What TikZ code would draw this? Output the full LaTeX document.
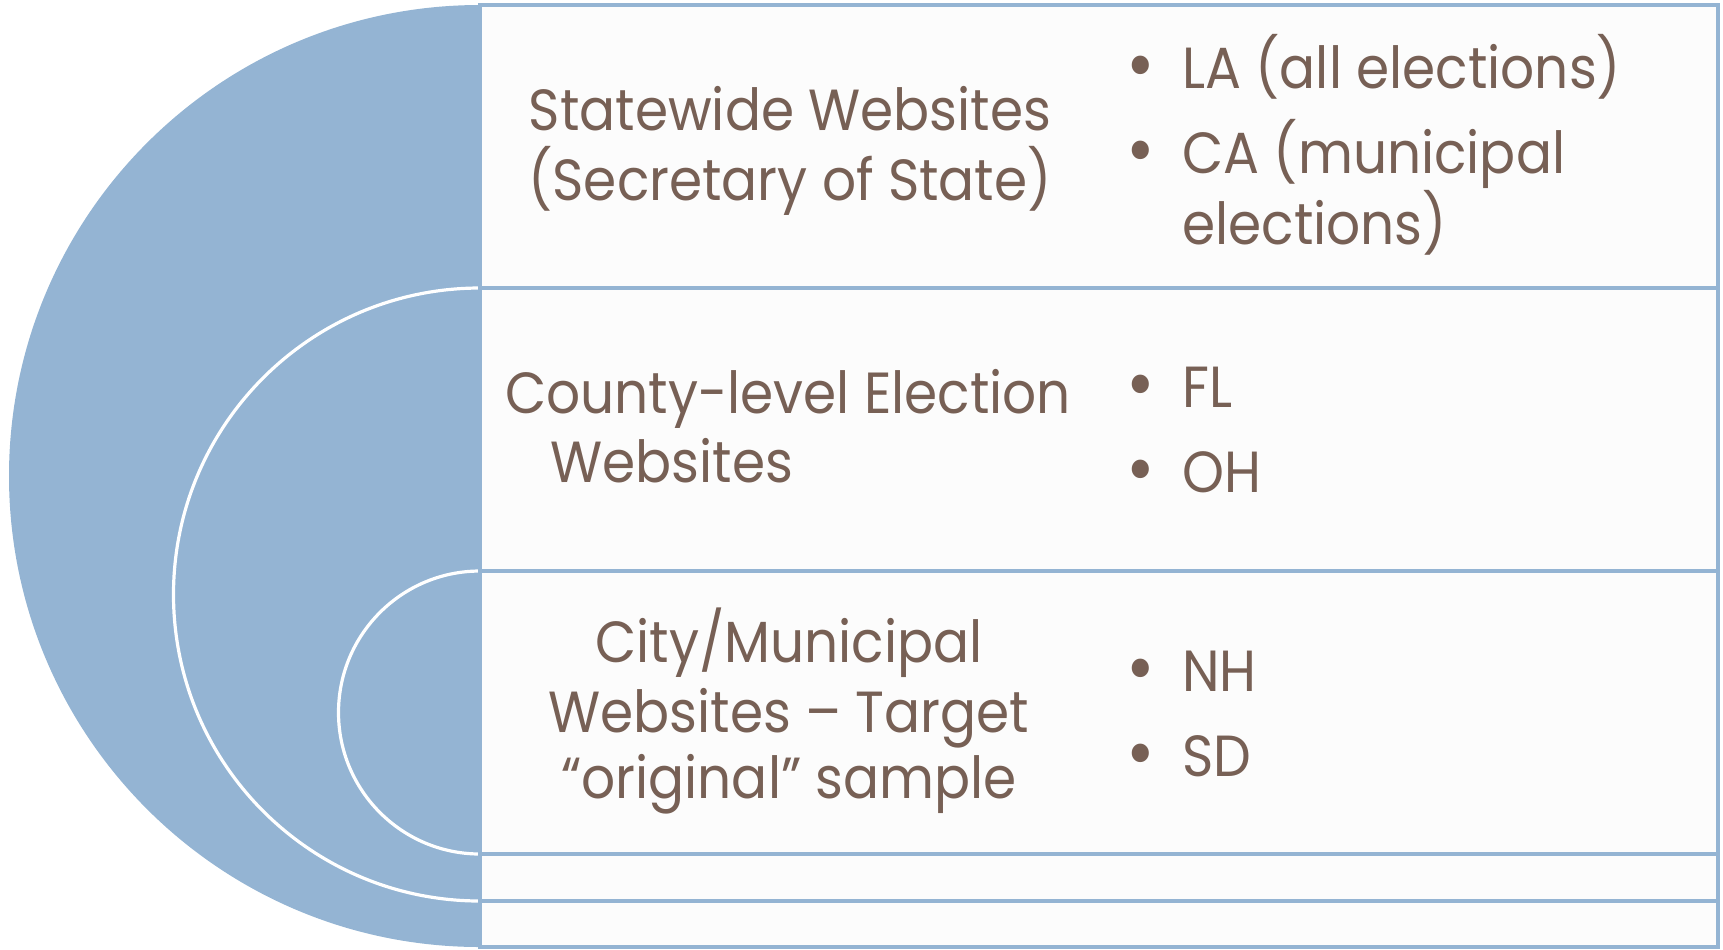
\documentclass[tikz,border=0pt]{standalone}
\usepackage{fontspec}
\setmainfont[FakeStretch=0.92]{Poppins}
\definecolor{ringblue}{HTML}{94B4D3}
\definecolor{panelfill}{HTML}{FCFCFC}
\definecolor{txtbrown}{HTML}{776055}
\tikzset{
  ring/.style={fill=ringblue, draw=white, line width=1.6pt},
  outerring/.style={fill=ringblue},
  panel/.style={fill=panelfill, draw=ringblue, line width=1.8pt},
  lbl/.style={text=txtbrown, font=\fontsize{29}{35}\selectfont, inner sep=0pt, anchor=base},
  itm/.style={text=txtbrown, font=\fontsize{29}{35}\selectfont, inner sep=0pt, anchor=base west},
}
\newcommand{\bul}{\makebox[28pt][l]{\raisebox{-1pt}{\scalebox{1.3}{•}}}}
\begin{document}
\begin{tikzpicture}[x=0.5pt,y=-0.5pt]
\useasboundingbox (0,0) rectangle (1723,949);
% outer ring + panel
\fill[outerring] (480,476) circle[radius=471];
\path[panel] (480,5) rectangle (1718,947);
% middle ring + panel
\path[ring] (480,594.5) circle[radius=306.5];
\path[panel] (480,288) rectangle (1718,901);
% inner ring + panel
\path[ring] (480,712.5) circle[radius=141.5];
\path[panel] (480,571) rectangle (1718,854);
% row 1
\node[lbl] (s1) at (790,130) {Statewide Websites};
\node[lbl] (s2) at (790,200) {(Secretary of State)};
\node[itm] (la) at (1126,88) {\bul LA (all elections)};
\node[itm] (ca) at (1126,173) {\bul CA (municipal};
\node[itm] (ca2) at (1182,244) {elections)};
% row 2
\node[lbl] (c1) at (788,413) {County-level Election};
\node[itm] (c2) at (550,482) {Websites};
\node[itm] (fl) at (1126,407) {\bul FL};
\node[itm] (oh) at (1126,492) {\bul OH};
% row 3
\node[lbl] (m1) at (789,662) {City/Municipal};
\node[lbl] (m2) at (789,732) {Websites – Target};
\node[lbl] (m3) at (789,798) {“original” sample};
\node[itm] (nh) at (1126,691) {\bul NH};
\node[itm] (sd) at (1126,776) {\bul SD};
\end{tikzpicture}
\end{document}
